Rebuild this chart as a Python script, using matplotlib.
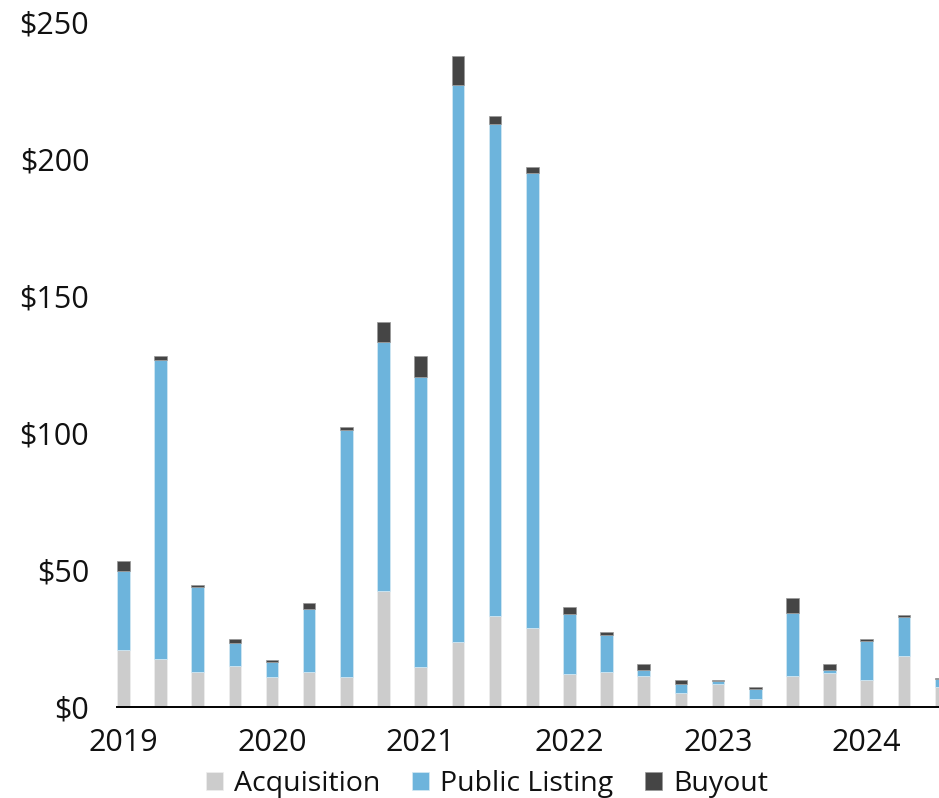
import matplotlib.pyplot as plt
import numpy as np

# quarterly values, 2019 Q1 .. 2024 Q3 ($B)
acquisition = [20.8, 17.6, 12.8, 15.1, 11.1, 12.6, 11.1, 42.3,
               14.6, 23.8, 33.2, 28.9, 12.0, 12.8, 11.4, 5.1,
               8.3, 3.0, 11.3, 12.5, 9.9, 18.6, 7.4]
public_listing = [28.9, 109.0, 31.1, 8.3, 5.4, 23.0, 90.0, 90.8,
                  106.0, 203.3, 179.6, 166.1, 21.9, 13.6, 2.1, 3.2,
                  1.3, 3.6, 23.1, 1.1, 14.3, 14.4, 2.7]
buyout = [3.6, 1.6, 0.6, 1.5, 0.6, 2.5, 1.1, 7.3,
          7.4, 10.5, 2.9, 1.9, 2.6, 1.0, 2.2, 1.6,
          0.2, 0.6, 5.3, 2.0, 0.7, 0.5, 0.5]
years = ['2019', '2020', '2021', '2022', '2023', '2024']
y_ticks = [0, 50, 100, 150, 200, 250]

plt.rcParams['font.family'] = ['Open Sans', 'DejaVu Sans']

fig = plt.figure(figsize=(9.39, 7.98), dpi=100)
W, H = 939, 798
left_px, right_px = 117, 939
ax = fig.add_axes([left_px / W, (H - 707) / H, (right_px - left_px) / W, (707 - 22) / H])

x = np.arange(len(acquisition))
acq = np.array(acquisition)
pub = np.array(public_listing)
buy = np.array(buyout)
width = 0.34

ax.bar(x, acq, width, color='#cccccc', edgecolor='#eeeeee', linewidth=0.5, label='Acquisition')
ax.bar(x, pub, width, bottom=acq, color='#6db4dc', edgecolor='#d6e9f4', linewidth=0.5, label='Public Listing')
ax.bar(x, buy, width, bottom=acq + pub, color='#454545', edgecolor='#999999', linewidth=0.5, label='Buyout')

px_per_unit = 37.17
ax.set_xlim(-0.17, -0.17 + (right_px - left_px) / px_per_unit)
ax.set_ylim(0, 250)

ax.set_yticks(y_ticks)
ax.set_yticklabels([f'${v}' for v in y_ticks])
ax.set_xticks(np.arange(len(years)) * 4)
ax.set_xticklabels(years)
ax.tick_params(axis='both', length=0, labelsize=22, colors='#111111')
ax.tick_params(axis='y', pad=20)
ax.tick_params(axis='x', pad=15)

for s in ['top', 'right', 'left']:
    ax.spines[s].set_visible(False)
ax.spines['bottom'].set_linewidth(1.4)
ax.spines['bottom'].set_color('black')

fig.legend(loc='center', bbox_to_anchor=(487 / W, (H - 784) / H), ncol=3, frameon=False,
           fontsize=20.5, handlelength=0.6, handleheight=0.6, handletextpad=0.4,
           columnspacing=1.1, borderaxespad=0, labelcolor='#111111')

fig.savefig('out.png', dpi=100)
